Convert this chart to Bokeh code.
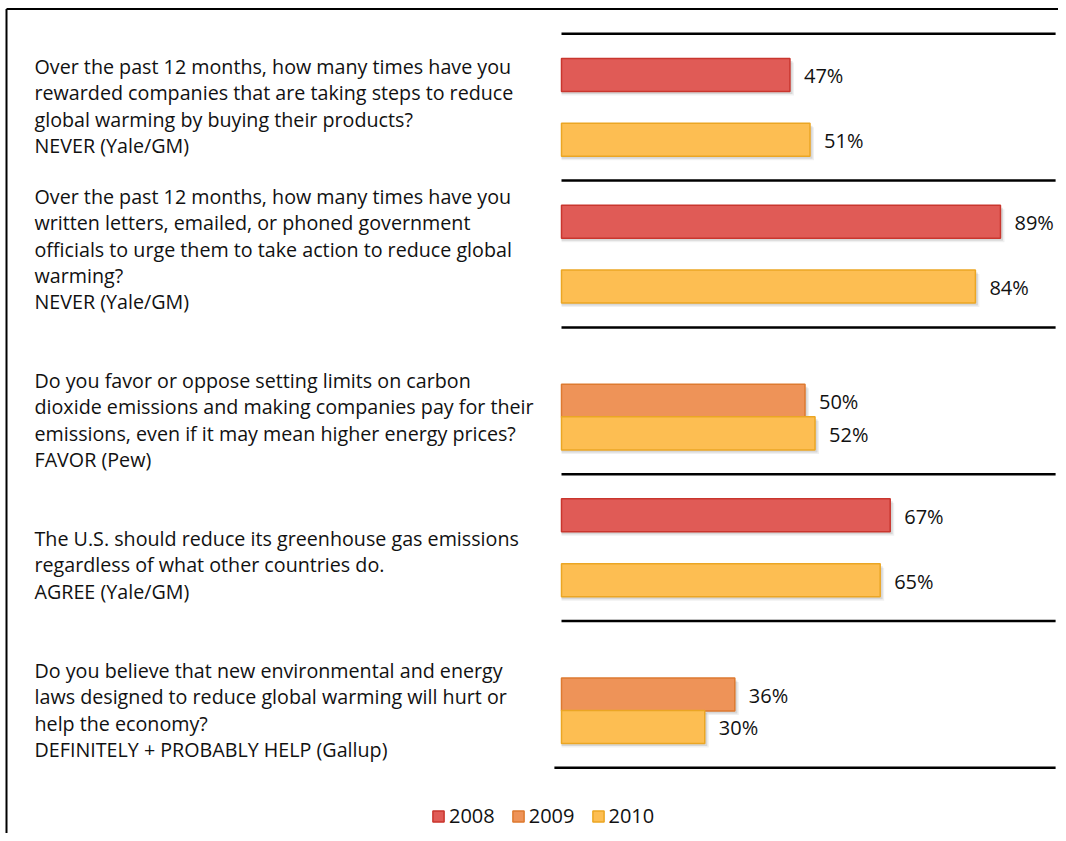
from bokeh.plotting import figure
from bokeh.models import Range1d, Legend, LegendItem, ColumnDataSource
from bokeh.embed import file_html
from bokeh.resources import INLINE
from bokeh.core.properties import value

# ---------------- data ----------------
questions = [
    ["Over the past 12 months, how many times have you",
     "rewarded companies that are taking steps to reduce",
     "global warming by buying their products?",
     "NEVER (Yale/GM)"],
    ["Over the past 12 months, how many times have you",
     "written letters, emailed, or phoned government",
     "officials to urge them to take action to reduce global",
     "warming?",
     "NEVER (Yale/GM)"],
    ["Do you favor or oppose setting limits on carbon",
     "dioxide emissions and making companies pay for their",
     "emissions, even if it may mean higher energy prices?",
     "FAVOR (Pew)"],
    ["The U.S. should reduce its greenhouse gas emissions",
     "regardless of what other countries do.",
     "AGREE (Yale/GM)"],
    ["Do you believe that new environmental and energy",
     "laws designed to reduce global warming will hurt or",
     "help the economy?",
     "DEFINITELY + PROBABLY HELP (Gallup)"],
]
years = ["2008", "2009", "2010"]
pct_2008 = [47, 89, None, 67, None]
pct_2009 = [None, None, 50, None, 36]
pct_2010 = [51, 84, 52, 65, 30]

# ---------------- layout / style ----------------
W, H = 1058, 833
ZERO_PX, PX_PER_PCT = 553.9, 5.012
GROUP_TOP_PX, GROUP_PX = 33.3, 146.8
FONT = "Open Sans"
TEXT_COLOR = "#111111"

def px_to_x(px):
    return (px - ZERO_PX) / PX_PER_PCT

def py_to_y(py):
    return (py - GROUP_TOP_PX) / GROUP_PX

x_start = px_to_x(561)          # left edge of the bar area
x_end_line = 100                # separators run to 100%
dodge = {"2008": -0.22, "2009": 0.0, "2010": 0.222}
bar_h = 0.225
fills = {"2008": "#E05B56", "2009": "#EE9358", "2010": "#FDBE52"}
lines = {"2008": "#C9362E", "2009": "#DD7A30", "2010": "#EBA624"}
first_line_px = [66, 196, 380, 538, 670]
line_step_px = 26.3

p = figure(width=W, height=H, output_backend="svg", toolbar_location=None,
           x_range=Range1d(px_to_x(0), px_to_x(W)),
           y_range=Range1d(py_to_y(H), py_to_y(0)),
           x_axis_location=None, y_axis_location=None, min_border=0)
p.grid.visible = False
p.outline_line_color = None
p.background_fill_color = "white"
p.border_fill_color = "white"

# frame border (left and top)
bx, by = px_to_x(6), py_to_y(8.5)
p.segment(x0=[bx, bx], y0=[by, by], x1=[bx, px_to_x(W + 5)], y1=[py_to_y(H + 5), by],
          line_color="black", line_width=2)

# separators between groups
n = len(questions)
sep_y = list(range(n + 1))
sep_x0 = [x_start] * n + [0]
p.segment(x0=sep_x0, x1=[x_end_line] * (n + 1), y0=sep_y, y1=sep_y,
          line_color="black", line_width=2.5)

series = {"2008": pct_2008, "2009": pct_2009, "2010": pct_2010}
renderers = {}
for yr in years:
    vals = series[yr]
    ys = [i + 0.5 + dodge[yr] for i, v in enumerate(vals) if v is not None]
    vs = [v for v in vals if v is not None]
    # soft drop shadow
    for k, a in ((4, 0.06), (2.5, 0.10)):
        p.hbar(y=[y + k / GROUP_PX for y in ys], right=[v + k / PX_PER_PCT for v in vs],
               left=x_start, height=bar_h, fill_color="black", fill_alpha=a, line_color=None)
    src = ColumnDataSource(dict(y=ys, v=vs, lab=[f"{v}%" for v in vs]))
    r = p.hbar(y="y", right="v", left=x_start, height=bar_h, source=src,
               fill_color=fills[yr], line_color=lines[yr], line_width=1.5)
    renderers[yr] = r
    p.text(x="v", y="y", text="lab", source=src, x_offset=14, y_offset=1,
           text_baseline="middle", text_align="left",
           text_font=value(FONT), text_font_size="20px", text_color=TEXT_COLOR)

# question texts
tx, ty, tt = [], [], []
for i, q in enumerate(questions):
    for j, line in enumerate(q):
        tx.append(px_to_x(34))
        ty.append(py_to_y(first_line_px[i] + j * line_step_px))
        tt.append(line)
p.text(x=tx, y=ty, text=tt, text_baseline="middle", text_align="left",
       text_font=value(FONT), text_font_size="19.7px", text_color=TEXT_COLOR)

legend = Legend(items=[LegendItem(label=yr, renderers=[renderers[yr]]) for yr in years],
                orientation="horizontal", location=(431, 4), padding=0, spacing=16,
                glyph_width=14, glyph_height=14, label_standoff=4,
                label_text_font=FONT, label_text_font_size="20px",
                label_text_color=TEXT_COLOR, border_line_color=None,
                background_fill_alpha=0)
p.add_layout(legend)

open("out.html", "w").write(file_html(p, INLINE))
